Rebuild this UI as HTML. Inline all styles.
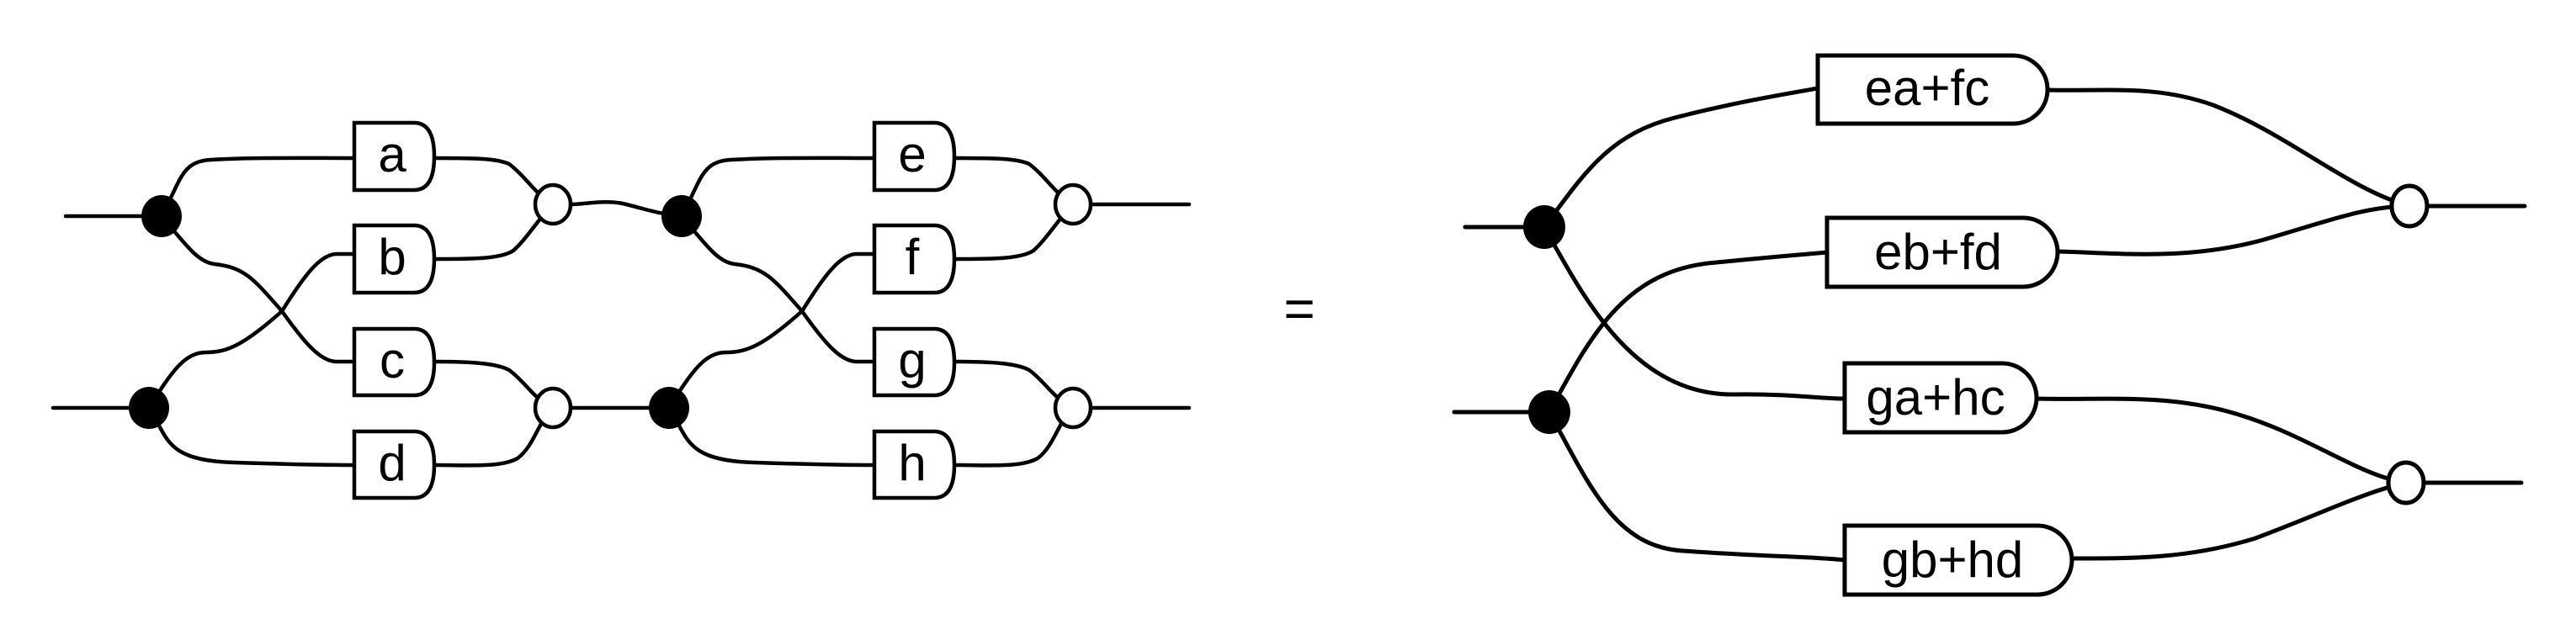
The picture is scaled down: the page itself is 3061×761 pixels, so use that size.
<!DOCTYPE html>
<html><head><meta charset="utf-8"><style>
html,body{margin:0;padding:0;background:#fff;}
svg{display:block;}
text{font-family:"Liberation Sans",Arial,sans-serif;font-size:60px;fill:#000;text-anchor:middle;}
</style></head><body>
<svg width="3061" height="761" viewBox="0 0 3061 761" xmlns="http://www.w3.org/2000/svg">
<defs>
<g id="stage" fill="none" stroke="#000" stroke-width="4.5" stroke-linecap="round">
  <path d="M192,257 C215,215 215,192 250,190 C300,187 360,188 421,188"/>
  <path d="M192,257 C220,290 235,312 255,314 C290,318 300,330 335,370 C360,405 380,430 400,430 L421,430"/>
  <path d="M177,485 C205,440 220,419 245,419 C270,419 290,410 335,370 C360,330 380,302 400,302 L421,302"/>
  <path d="M177,485 C200,520 195,548 280,550 C340,552 380,553 421,553"/>
  <path d="M518,188 C560,188 590,188 605,195 C625,210 635,230 657,243"/>
  <path d="M518,308 C560,308 595,308 610,298 C625,285 640,260 657,243"/>
  <path d="M518,430 C560,430 590,432 605,440 C625,455 635,475 657,485"/>
  <path d="M518,553 C560,553 595,556 615,545 C635,530 640,500 657,485"/>
  <path d="M421,146 H492 Q516,146 516,186 Q516,226 492,226 H421 Z" fill="#fff"/>
  <path d="M421,268 H492 Q516,268 516,308 Q516,348 492,348 H421 Z" fill="#fff"/>
  <path d="M421,391 H492 Q516,391 516,431 Q516,470 492,470 H421 Z" fill="#fff"/>
  <path d="M421,513 H492 Q516,513 516,553 Q516,592 492,592 H421 Z" fill="#fff"/>
  <ellipse cx="192" cy="257" rx="24" ry="25" fill="#000" stroke="none"/>
  <ellipse cx="177" cy="485" rx="24" ry="25" fill="#000" stroke="none"/>
  <ellipse cx="657" cy="243" rx="21" ry="23" fill="#fff"/>
  <ellipse cx="657" cy="485" rx="21" ry="23" fill="#fff"/>
</g>
</defs>
<g fill="none" stroke="#000" stroke-width="4.5" stroke-linecap="round">
  <path d="M78,257 L192,257"/>
  <path d="M63,485 L177,485"/>
  <path d="M679,243 C700,242 720,238 740,242 C765,248 785,255 810,257"/>
  <path d="M679,485 L795,485"/>
  <path d="M1296,243 L1413,243"/>
  <path d="M1296,485 L1413,485"/>
</g>
<use href="#stage"/>
<use href="#stage" transform="translate(618,0)"/>
<text x="466" y="204">a</text>
<text x="466" y="326">b</text>
<text x="466" y="449">c</text>
<text x="466" y="571">d</text>
<text x="1084" y="204">e</text>
<text x="1084" y="326">f</text>
<text x="1084" y="449">g</text>
<text x="1084" y="571">h</text>

<text x="1544" y="389" style="font-size:64px">=</text>

<g fill="none" stroke="#000" stroke-width="5" stroke-linecap="round">
  <path d="M1741,270 L1835,270"/>
  <path d="M1728,490 L1841,490"/>
  <path d="M1835,270 C1880,210 1910,160 1990,140 C2060,122 2120,112 2160,105"/>
  <path d="M1835,270 C1880,350 1940,470 2060,469 C2130,468 2160,474 2192,474"/>
  <path d="M1841,490 C1890,400 1930,320 2040,312 C2110,305 2150,302 2171,300"/>
  <path d="M1841,490 C1890,580 1920,650 2000,655 C2100,662 2160,662 2192,666"/>
  <path d="M2433,107 C2500,109 2560,100 2630,125 C2720,160 2790,225 2863,245"/>
  <path d="M2446,299 C2520,301 2600,310 2690,285 C2760,265 2810,245 2863,245"/>
  <path d="M2420,474 C2500,476 2570,468 2650,490 C2740,515 2800,565 2859,574"/>
  <path d="M2462,664 C2530,664 2600,665 2680,640 C2760,610 2810,585 2859,574"/>
  <path d="M2863,245 L3000,245"/>
  <path d="M2859,574 L2996,574"/>
  <path d="M2160,66 H2392 A41,40.5 0 0 1 2392,147 H2160 Z" fill="#fff"/>
  <path d="M2171,259 H2404 A41,41 0 0 1 2404,341 H2171 Z" fill="#fff"/>
  <path d="M2192,432 H2379 A41,41 0 0 1 2379,514 H2192 Z" fill="#fff"/>
  <path d="M2192,625 H2421 A41,41 0 0 1 2421,707 H2192 Z" fill="#fff"/>
  <ellipse cx="1835" cy="270" rx="25" ry="26" fill="#000" stroke="none"/>
  <ellipse cx="1841" cy="490" rx="25" ry="26" fill="#000" stroke="none"/>
  <ellipse cx="2863" cy="245" rx="21" ry="24" fill="#fff"/>
  <ellipse cx="2859" cy="574" rx="21" ry="24" fill="#fff"/>
</g>
<text x="2290" y="125">ea+fc</text>
<text x="2303" y="320">eb+fd</text>
<text x="2300" y="493">ga+hc</text>
<text x="2320" y="686">gb+hd</text>
</svg>
</body></html>
